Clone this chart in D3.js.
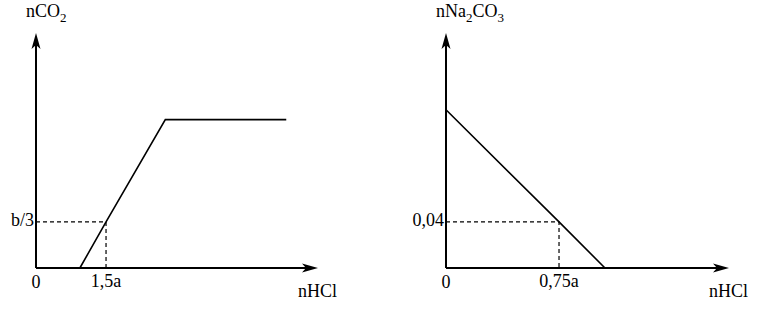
<!DOCTYPE html>
<html>
<head>
<meta charset="utf-8">
<script src="https://cdn.jsdelivr.net/npm/d3@7"></script>
<style>
  body { margin: 0; background: #fff; }
  svg text { font-family: "Liberation Serif", "Times New Roman", serif; font-size: 18px; fill: #000; }
</style>
</head>
<body>
<svg id="chart" width="772" height="314"></svg>
<script>
// left graph: nCO2 vs nHCl (x in units of a, y in units of b/3)
var co2X = [0.94, 1.5, 2.77, 5.36];
var co2Y = [0, 1, 3.22, 3.22];
var co2Mark = { x: 1.5, y: 1, xLabel: "1,5a", yLabel: "b/3" };

// right graph: nNa2CO3 vs nHCl
var naX = [0, 0.75, 1.055];
var naY = [0.1374, 0.04, 0];
var naMark = { x: 0.75, y: 0.04, xLabel: "0,75a", yLabel: "0,04" };

var svg = d3.select("#chart");

function drawGraph(opt) {
  var x = d3.scaleLinear().domain([0, opt.xMax]).range([opt.left, opt.right]);
  var y = d3.scaleLinear().domain([0, opt.yMax]).range([268, 33]);
  var g = svg.append("g");

  // axes
  g.append("line").attr("x1", x(0)).attr("y1", y(0)).attr("x2", x(opt.xMax) - 6).attr("y2", y(0))
    .attr("stroke", "#000").attr("stroke-width", 2);
  g.append("line").attr("x1", x(0)).attr("y1", y(0)).attr("x2", x(0)).attr("y2", y(opt.yMax) + 6)
    .attr("stroke", "#000").attr("stroke-width", 2);

  // arrow heads
  var tx = x(opt.xMax), ty = y(0);
  g.append("path").attr("d", "M" + tx + "," + ty + "L" + (tx - 16) + "," + (ty - 4.5) + "L" + (tx - 12) + "," + ty + "L" + (tx - 16) + "," + (ty + 4.5) + "Z");
  var ax = x(0), ay = y(opt.yMax);
  g.append("path").attr("d", "M" + ax + "," + ay + "L" + (ax - 4.5) + "," + (ay + 16) + "L" + ax + "," + (ay + 12) + "L" + (ax + 4.5) + "," + (ay + 16) + "Z");

  // dashed guides
  g.append("path")
    .attr("d", "M" + x(0) + "," + y(opt.mark.y) + "H" + x(opt.mark.x) + "V" + y(0))
    .attr("fill", "none").attr("stroke", "#000").attr("stroke-width", 1.2)
    .attr("stroke-dasharray", "4,3");

  // data line
  var line = d3.line().x(function (d) { return x(d[0]); }).y(function (d) { return y(d[1]); });
  g.append("path").datum(d3.zip(opt.xs, opt.ys)).attr("d", line)
    .attr("fill", "none").attr("stroke", "#000").attr("stroke-width", 1.6);

  // labels
  g.append("text").attr("x", x(0) - 2).attr("y", y(opt.mark.y) + 4).attr("text-anchor", "end").text(opt.mark.yLabel);
  g.append("text").attr("x", x(opt.mark.x)).attr("y", 287).attr("text-anchor", "middle").text(opt.mark.xLabel);
  g.append("text").attr("x", x(0) + opt.zeroDx).attr("y", 288).attr("text-anchor", "middle").text("0");
  g.append("text").attr("x", opt.hclX).attr("y", 297).text("nHCl");

  var t = g.append("text").attr("x", opt.titleX).attr("y", 17);
  opt.title.forEach(function (p) {
    var s = t.append("tspan").text(p[0]);
    if (p[1]) s.attr("font-size", 13).attr("dy", 5);
    else if (t.selectAll("tspan").size() > 1) s.attr("dy", -5);
  });
}

drawGraph({ left: 36, right: 318, xMax: 6.04, yMax: 5.1, xs: co2X, ys: co2Y, mark: co2Mark,
  zeroDx: 0, hclX: 298, titleX: 26,
  title: [["nCO", false], ["2", true]] });

drawGraph({ left: 446, right: 729, xMax: 1.878, yMax: 0.204, xs: naX, ys: naY, mark: naMark,
  zeroDx: 0, hclX: 709, titleX: 436,
  title: [["nNa", false], ["2", true], ["CO", false], ["3", true]] });
</script>
</body>
</html>
